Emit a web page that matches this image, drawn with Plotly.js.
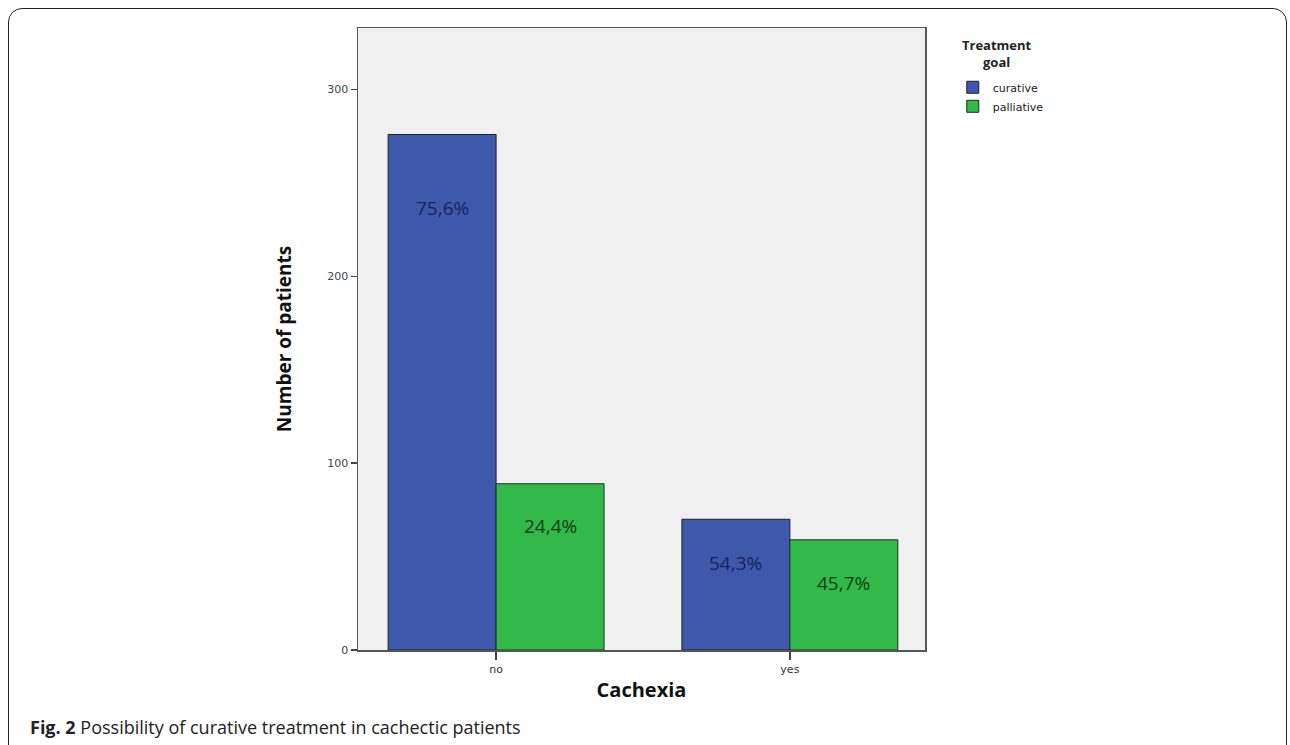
<!DOCTYPE html>
<html>
<head>
<meta charset="utf-8">
<script src="https://cdn.plot.ly/plotly-3.0.1.min.js"></script>
<style>
  html, body { margin: 0; padding: 0; background: #fff; }
  #wrap { position: relative; width: 1290px; height: 745px; overflow: hidden; }
  #frame { position: absolute; left: 8px; top: 8px; width: 1279px; height: 760px;
           border: 1.5px solid #222; border-radius: 14px; box-sizing: border-box; }
  #chart { position: absolute; left: 0; top: 0; width: 1290px; height: 745px; }
  #caption { position: absolute; left: 30px; top: 715px; font-family: 'Open Sans', sans-serif;
             font-size: 18px; color: #222; white-space: nowrap; }
</style>
</head>
<body>
<div id="wrap">
  <div id="frame"></div>
  <div id="chart"></div>
  <div id="caption"><b>Fig. 2</b> Possibility of curative treatment in cachectic patients</div>
</div>
<script>
// ---- data ----
const categories = ['no', 'yes'];
const seriesNames = ['curative', 'palliative'];
const curative = [276, 70];
const palliative = [89, 59];
const curativePct = ['75,6%', '54,3%'];
const palliativePct = ['24,4%', '45,7%'];
const yTicks = [0, 100, 200, 300];
const legendTitle = 'Treatment<br>goal';

const blue = '#3e58ac';
const green = '#33b84a';

const traces = [
  { type: 'bar', name: seriesNames[0], x: categories, y: curative,
    marker: { color: blue, line: { color: '#1e1e2e', width: 1 } }, hoverinfo: 'none' },
  { type: 'bar', name: seriesNames[1], x: categories, y: palliative,
    marker: { color: green, line: { color: '#1e2e1e', width: 1 } }, hoverinfo: 'none' }
];

// percentage labels placed inside bars, below their tops
const annotations = [];
const curShift = [-74, -44];
const palShift = [-42, -43];
categories.forEach((c, i) => {
  annotations.push({ xref: 'x', yref: 'y', x: i, xshift: -54, y: curative[i], yshift: curShift[i],
    text: curativePct[i], showarrow: false,
    font: { family: 'Open Sans', size: 19, color: '#18245a' } });
  annotations.push({ xref: 'x', yref: 'y', x: i, xshift: 54, y: palliative[i], yshift: palShift[i],
    text: palliativePct[i], showarrow: false,
    font: { family: 'Open Sans', size: 19, color: '#0f4016' } });
});
// legend title (centred two lines)
annotations.push({ xref: 'paper', yref: 'paper', x: 1.127, y: 0.99, xanchor: 'center', yanchor: 'top',
  text: '<b>' + legendTitle + '</b>', align: 'center', showarrow: false,
  font: { family: 'Open Sans', size: 13, color: '#222' } });

const layout = {
  width: 1290, height: 745,
  margin: { l: 358, r: 365, t: 28, b: 95, pad: 0 },
  paper_bgcolor: 'rgba(0,0,0,0)',
  plot_bgcolor: '#f0f0f0',
  barmode: 'group',
  bargap: 0.265,
  bargroupgap: 0,
  showlegend: true,
  legend: {
    x: 1.049, xanchor: 'left', y: 0.928, yanchor: 'top',
    bgcolor: 'rgba(0,0,0,0)',
    font: { family: 'DejaVu Sans', size: 11, color: '#222' },
    itemwidth: 30,
    tracegroupgap: 0
  },
  xaxis: {
    type: 'category',
    range: [-0.47, 1.46],
    showline: true, linecolor: '#555', linewidth: 1.5, mirror: true,
    ticks: 'outside', ticklen: 8, tickcolor: '#444', tickwidth: 1.5,
    tickfont: { family: 'DejaVu Sans', size: 11, color: '#333' },
    showgrid: false, zeroline: false,
    title: { text: '<b>Cachexia</b>', standoff: 8,
             font: { family: 'Open Sans', size: 20, color: '#111' } }
  },
  yaxis: {
    range: [0, 333],
    tickvals: yTicks,
    showline: true, linecolor: '#555', linewidth: 1.5, mirror: true,
    ticks: 'outside', ticklen: 6, tickcolor: '#444', tickwidth: 1.5,
    tickfont: { family: 'DejaVu Sans', size: 11, color: '#444' },
    showgrid: false, zeroline: false,
    title: { text: '<b>Number of patients</b>', standoff: 30,
             font: { family: 'Open Sans', size: 19, color: '#111' } }
  },
  annotations: annotations
};

Plotly.newPlot('chart', traces, layout, { staticPlot: true, displayModeBar: false });
</script>
</body>
</html>
